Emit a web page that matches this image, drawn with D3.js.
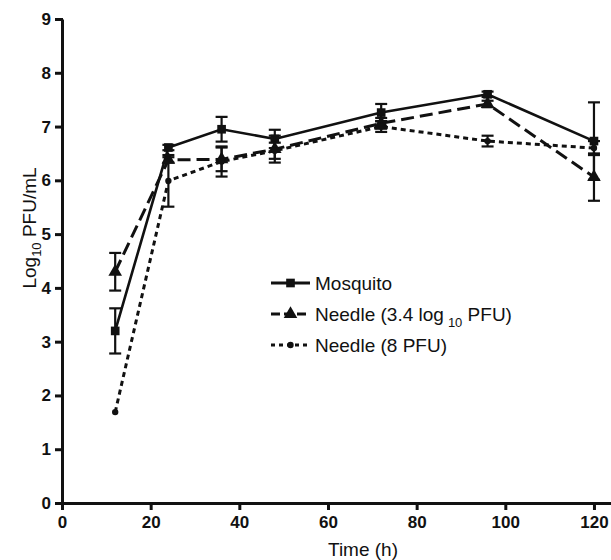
<!DOCTYPE html>
<html lang="en">
<head>
  <meta charset="utf-8">
  <title>Log10 PFU/mL over time</title>
  <script src="https://d3js.org/d3.v7.min.js"></script>
  <style>
    body { margin: 0; background: #fff; }
    text { font-family: "Liberation Sans", Arial, sans-serif; fill: #111; }
    .tick text { font-weight: bold; font-size: 17px; }
  </style>
</head>
<body>
<script>
  // data
  const hours = [12, 24, 36, 48, 72, 96, 120];
  const mosquito = [3.2, 6.61, 6.95, 6.77, 7.26, 7.6, 6.73];
  const mosquitoErr = [0.42, 0.05, 0.23, 0.17, 0.16, 0.05, 0.72];
  const needleHigh = [4.3, 6.38, 6.39, 6.58, 7.06, 7.42, 6.06];
  const needleHighErr = [0.35, 0.05, 0.22, 0.25, 0.1, 0.06, 0.44];
  const needleLow = [1.69, 5.99, 6.35, 6.55, 7.0, 6.73, 6.6];
  const needleLowErr = [0, 0.48, 0.28, 0.15, 0.1, 0.1, 0.13];
  const xTicks = [0, 20, 40, 60, 80, 100, 120];
  const yTicks = [0, 1, 2, 3, 4, 5, 6, 7, 8, 9];

  const width = 611, height = 560;
  const svg = d3.select("body").append("svg")
      .attr("width", width).attr("height", height);

  const x = d3.scaleLinear().domain([0, 124]).range([62, 611.7]);
  const y = d3.scaleLinear().domain([0, 9]).range([503, 19]);

  // axes
  const xAxis = svg.append("g")
      .attr("transform", `translate(0,${y(0)})`)
      .call(d3.axisBottom(x).tickValues(xTicks).tickSize(7).tickPadding(3).tickSizeOuter(0));
  const yAxis = svg.append("g")
      .attr("transform", `translate(${x(0)},0)`)
      .call(d3.axisLeft(y).tickValues(yTicks).tickSize(7).tickPadding(4).tickSizeOuter(0));
  [xAxis, yAxis].forEach(g => {
    g.select(".domain").attr("stroke", "#111").attr("stroke-width", 3);
    g.selectAll(".tick line").attr("stroke", "#111").attr("stroke-width", 3);
  });
  xAxis.selectAll(".tick line").attr("y1", -1);
  yAxis.selectAll(".tick line").attr("x1", 1);
  xAxis.selectAll(".tick text").attr("dy", "0.88em");

  // axis titles
  svg.append("text")
      .attr("x", 363).attr("y", 556)
      .attr("text-anchor", "middle")
      .style("font-size", "19px")
      .text("Time (h)");
  const yt = svg.append("text")
      .attr("transform", "translate(36,228) rotate(-90)")
      .attr("text-anchor", "middle")
      .style("font-size", "19px");
  yt.append("tspan").text("Log");
  yt.append("tspan").attr("dy", 5).style("font-size", "13px").text("10");
  yt.append("tspan").attr("dy", -5).text(" PFU/mL");

  const series = [
    { name: "Mosquito", vals: mosquito, err: mosquitoErr, dash: null, marker: "square" },
    { name: "high", vals: needleHigh, err: needleHighErr, dash: "13,6", marker: "triangle" },
    { name: "low", vals: needleLow, err: needleLowErr, dash: "5,4", marker: "circle" }
  ];

  const line = d3.line().x(d => x(d.h)).y(d => y(d.v));
  const symbolOf = {
    square: d3.symbol().type(d3.symbolSquare).size(75),
    triangle: d3.symbol().type(d3.symbolTriangle).size(80),
    circle: d3.symbol().type(d3.symbolCircle).size(32)
  };

  series.forEach(s => {
    const pts = hours.map((h, i) => ({ h, v: s.vals[i], e: s.err[i] }));
    const g = svg.append("g");

    // error bars
    const eb = g.selectAll(".eb").data(pts.filter(d => d.e > 0)).join("g");
    eb.append("line")
        .attr("x1", d => x(d.h)).attr("x2", d => x(d.h))
        .attr("y1", d => y(d.v - d.e)).attr("y2", d => y(d.v + d.e))
        .attr("stroke", "#111").attr("stroke-width", 2.2);
    [-1, 1].forEach(sign => {
      eb.append("line")
          .attr("x1", d => x(d.h) - 6).attr("x2", d => x(d.h) + 6)
          .attr("y1", d => y(d.v + sign * d.e)).attr("y2", d => y(d.v + sign * d.e))
          .attr("stroke", "#111").attr("stroke-width", 2.2);
    });

    g.append("path")
        .attr("d", line(pts))
        .attr("fill", "none")
        .attr("stroke", "#111")
        .attr("stroke-width", s.marker === "square" ? 2.6 : 3)
        .attr("stroke-dasharray", s.dash);

    g.selectAll(".m").data(pts).join("path")
        .attr("transform", d => `translate(${x(d.h)},${y(d.v)})`)
        .attr("d", symbolOf[s.marker]())
        .attr("fill", "#111");
  });

  // legend
  const legendRows = [
    { label: ["Mosquito"], dash: null, marker: "square" },
    { label: ["Needle (3.4 log", "10", " PFU)"], dash: "9,4", marker: "triangle" },
    { label: ["Needle (8 PFU)"], dash: "4,4", marker: "circle" }
  ];
  const lg = svg.append("g");
  legendRows.forEach((r, i) => {
    const cy = 283 + i * 31;
    lg.append("line")
        .attr("x1", 271).attr("x2", 310).attr("y1", cy).attr("y2", cy)
        .attr("stroke", "#111").attr("stroke-width", 3)
        .attr("stroke-dasharray", r.dash);
    lg.append("path")
        .attr("transform", `translate(290.5,${cy})`)
        .attr("d", symbolOf[r.marker]())
        .attr("fill", "#111");
    const t = lg.append("text")
        .attr("x", 315).attr("y", cy + 7)
        .style("font-size", "19px");
    t.append("tspan").text(r.label[0]);
    if (r.label.length > 1) {
      t.append("tspan").attr("dx", 4).attr("dy", 6).style("font-size", "13px").text(r.label[1]);
      t.append("tspan").attr("dy", -6).text(r.label[2]);
    }
  });
</script>
</body>
</html>
